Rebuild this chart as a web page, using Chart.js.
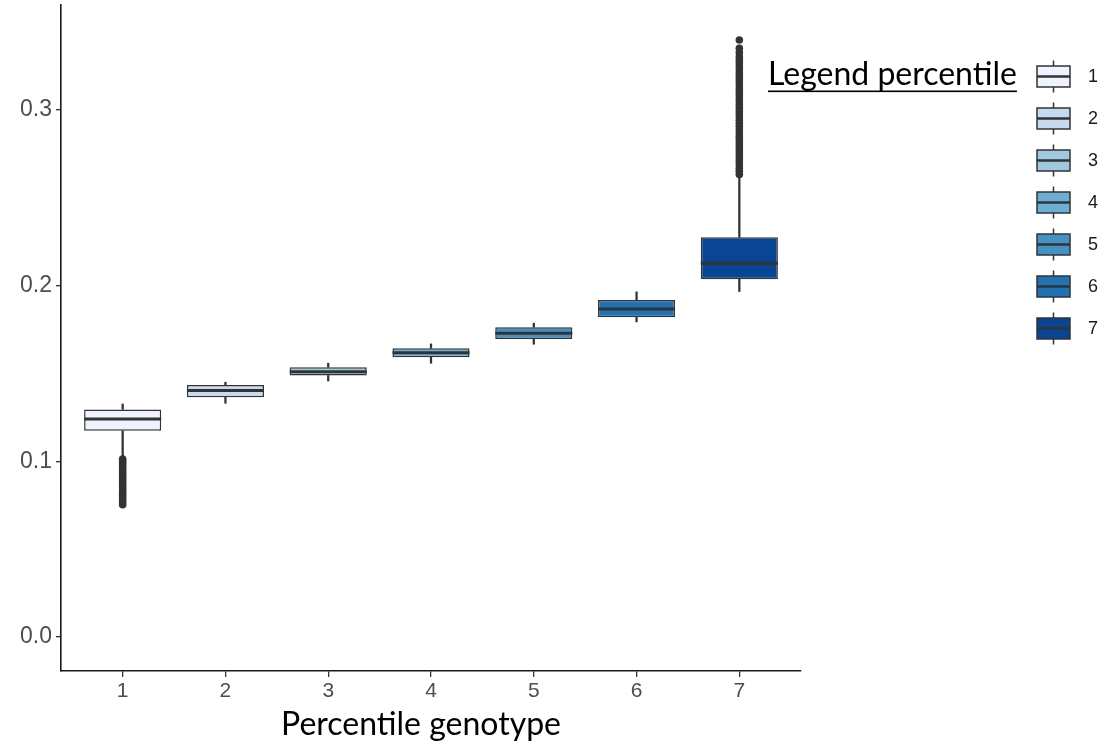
<!DOCTYPE html>
<html><head><meta charset="utf-8">
<script src="https://cdn.jsdelivr.net/npm/chart.js@4/dist/chart.umd.min.js"></script>
<style>html,body{margin:0;padding:0;background:#fff;}#wrap{width:1107px;height:744px;position:relative;}</style>
</head><body><div id="wrap"><canvas id="c" width="1107" height="744"></canvas></div>
<script>
const categories = [1, 2, 3, 4, 5, 6, 7];
const legendLabels = ['1', '2', '3', '4', '5', '6', '7'];
const whiskerLow  = [0.1019, 0.1330, 0.1457, 0.1558, 0.1666, 0.1793, 0.1966];
const q1          = [0.1173, 0.1364, 0.1488, 0.1592, 0.1696, 0.1819, 0.2036];
const median      = [0.1241, 0.1402, 0.1510, 0.1618, 0.1729, 0.1867, 0.2127];
const q3          = [0.1295, 0.1434, 0.1535, 0.1643, 0.1763, 0.1918, 0.2275];
const whiskerHigh = [0.1326, 0.1450, 0.1558, 0.1668, 0.1786, 0.1964, 0.2611];
const outliersGroup1 = [0.1012, 0.0998, 0.0985, 0.0971, 0.0958, 0.0944, 0.0931, 0.0917, 0.0903, 0.0889, 0.0876, 0.0862, 0.0848, 0.0834, 0.0821, 0.0807, 0.0794, 0.0780, 0.0766, 0.0752];
const outliersGroup7 = [0.2632, 0.2650, 0.2668, 0.2687, 0.2705, 0.2722, 0.2741, 0.2760, 0.2778, 0.2795, 0.2813, 0.2832, 0.2850, 0.2868, 0.2887, 0.2905, 0.2922, 0.2941, 0.2960, 0.2978, 0.2995, 0.3013, 0.3032, 0.3050, 0.3068, 0.3087, 0.3105, 0.3122, 0.3141, 0.3160, 0.3178, 0.3195, 0.3213, 0.3232, 0.3250, 0.3268, 0.3284, 0.3303, 0.3326, 0.3351, 0.3398];
const yTicks = [0.0, 0.1, 0.2, 0.3];
const boxColors = ['#EFF3FF', '#C6DBEF', '#9ECAE1', '#6BAED6', '#4292C6', '#2171B5', '#084594'];
const xTitle = 'Percentile genotype';
const legendTitle = 'Legend percentile';

const INK = '#333333';
const outlierPoints = [].concat(
  outliersGroup1.map(v => ({x: categories[0], y: v})),
  outliersGroup7.map(v => ({x: categories[6], y: v}))
);

const legendPlugin = {
  id: 'boxLegend',
  afterDraw(chart) {
    const ctx = chart.ctx;
    ctx.save();
    // x-axis title
    ctx.font = '32px Lato';
    ctx.fillStyle = '#000';
    ctx.textAlign = 'center';
    ctx.textBaseline = 'alphabetic';
    ctx.fillText(xTitle, 421, 735);
    // legend title
    ctx.textAlign = 'left';
    ctx.fillText(legendTitle, 768, 85);
    const w = ctx.measureText(legendTitle).width;
    ctx.fillRect(768, 90.5, w, 1.6);
    legendLabels.forEach((lab, i) => {
      const cy = 76.5 + i * 42;
      const x0 = 1037, bw = 33, bh = 21;
      ctx.strokeStyle = INK;
      ctx.lineWidth = 1.5;
      ctx.beginPath();
      ctx.moveTo(x0 + bw / 2, cy - 16);
      ctx.lineTo(x0 + bw / 2, cy + 16);
      ctx.stroke();
      ctx.fillStyle = boxColors[i];
      ctx.fillRect(x0, cy - bh / 2, bw, bh);
      ctx.strokeRect(x0, cy - bh / 2, bw, bh);
      ctx.lineWidth = 2.5;
      ctx.beginPath();
      ctx.moveTo(x0, cy);
      ctx.lineTo(x0 + bw, cy);
      ctx.stroke();
      ctx.fillStyle = '#1a1a1a';
      ctx.font = '18px "Liberation Sans", Arial, sans-serif';
      ctx.textBaseline = 'middle';
      ctx.fillText(lab, 1088, cy + 1);
    });
    ctx.restore();
  }
};

new Chart(document.getElementById('c'), {
  type: 'bar',
  data: {
    datasets: [
      {
        type: 'bar', label: 'whisker low',
        data: categories.map((c, i) => ({x: c, y: [whiskerLow[i], q1[i]]})),
        backgroundColor: INK, barThickness: 1.6, grouped: false, order: 5
      },
      {
        type: 'bar', label: 'whisker high',
        data: categories.map((c, i) => ({x: c, y: [q3[i], whiskerHigh[i]]})),
        backgroundColor: INK, barThickness: 1.6, grouped: false, order: 5
      },
      {
        type: 'bar', label: 'box',
        data: categories.map((c, i) => ({x: c, y: [q1[i], q3[i]]})),
        backgroundColor: boxColors, borderColor: INK, borderWidth: 1.5, borderSkipped: false,
        categoryPercentage: 0.75, barPercentage: 1.0, grouped: false, order: 3
      },
      {
        type: 'scatter', label: 'median',
        data: categories.map((c, i) => ({x: c, y: median[i]})),
        pointStyle: 'line', pointRadius: 38.5, borderColor: INK, borderWidth: 3, order: 2
      },
      {
        type: 'scatter', label: 'outliers',
        data: outlierPoints,
        pointRadius: 3.8, backgroundColor: INK, borderWidth: 0, order: 1
      }
    ]
  },
  options: {
    responsive: false,
    animation: false,
    layout: {autoPadding: false, padding: {top: 5, right: 306, left: 0, bottom: 0}},
    plugins: {legend: {display: false}, tooltip: {enabled: false}},
    scales: {
      x: {
        type: 'linear', min: 0.4, max: 7.6, offset: false,
        afterBuildTicks: s => { s.ticks = categories.map(v => ({value: v})); },
        afterFit: s => { s.height = 73; s.paddingLeft = 0; s.paddingRight = 0; },
        grid: {display: true, drawOnChartArea: false, drawTicks: true, tickLength: 6, color: INK, lineWidth: 1.3, offset: false},
        border: {display: true, color: '#1a1a1a', width: 1.6},
        ticks: {color: '#4d4d4d', font: {size: 21, family: '"Liberation Sans", Arial, sans-serif'}, padding: 2, callback: v => String(v)},
        title: {display: false}
      },
      y: {
        type: 'linear', min: -0.0194, max: 0.3597,
        afterBuildTicks: s => { s.ticks = yTicks.map(v => ({value: v})); },
        afterFit: s => { s.width = 61; s.paddingTop = 0; s.paddingBottom = 0; },
        grid: {display: true, drawOnChartArea: false, drawTicks: true, tickLength: 5, color: INK, lineWidth: 1.3},
        border: {display: true, color: '#1a1a1a', width: 1.6},
        ticks: {color: '#4d4d4d', font: {size: 23, family: '"Liberation Sans", Arial, sans-serif'}, padding: 4, callback: v => v.toFixed(1)}
      }
    }
  },
  plugins: [legendPlugin]
});
</script></body></html>
